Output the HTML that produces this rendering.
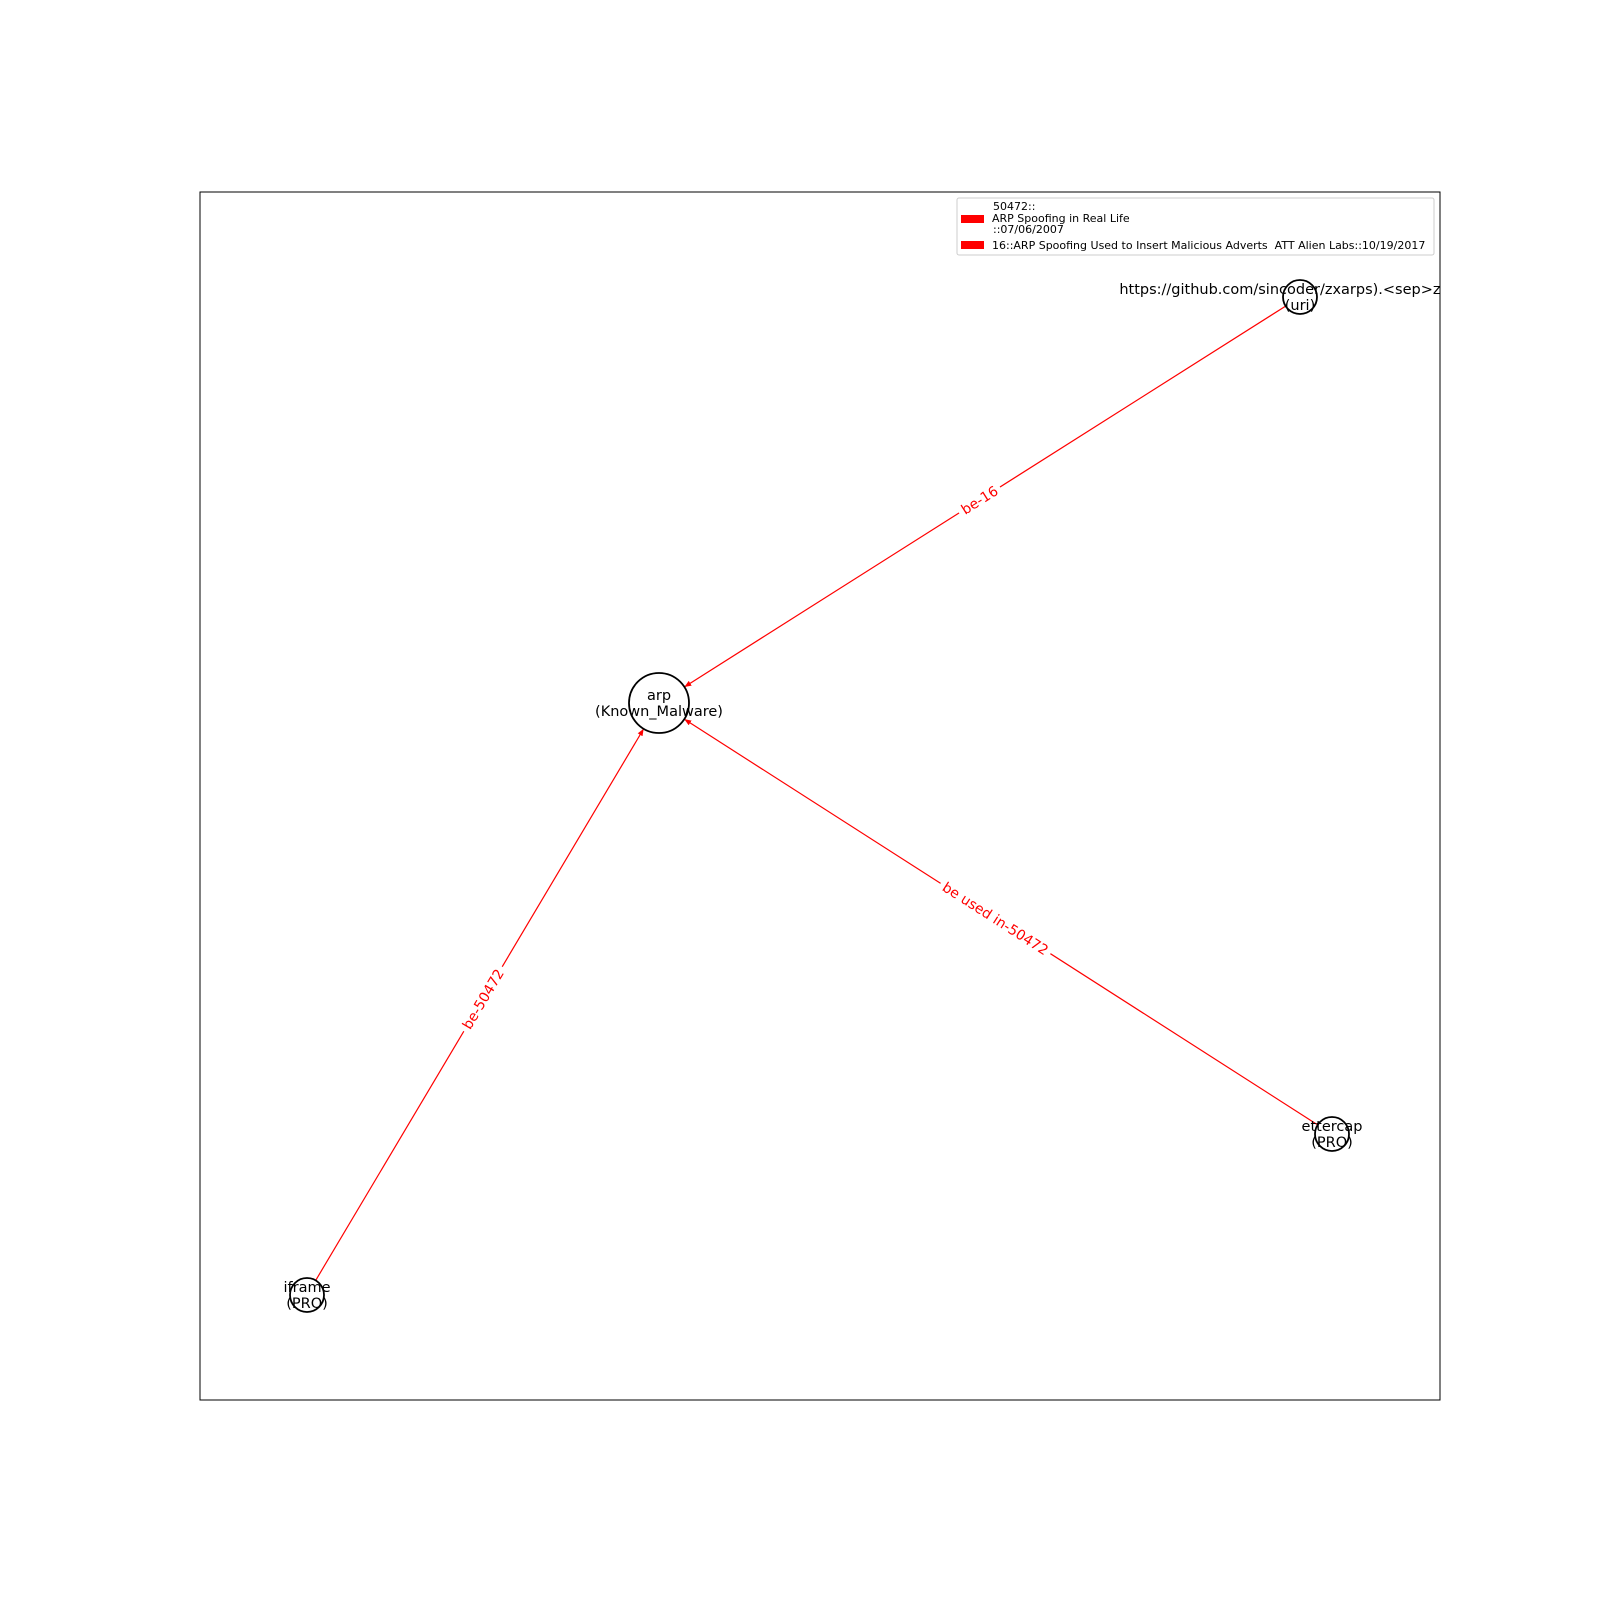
<!DOCTYPE html>
<html><head><meta charset="utf-8"><style>
html,body{margin:0;padding:0;background:#fff;}
svg{display:block;font-family:"DejaVu Sans","Liberation Sans",sans-serif;}
</style></head><body>
<svg id="chart" width="1600" height="1600" viewBox="0 0 1600 1600" xmlns="http://www.w3.org/2000/svg">
<defs>
<clipPath id="axclip"><rect x="200" y="192" width="1240" height="1208"/></clipPath>
<marker id="arrow" viewBox="0 0 10 10" refX="10" refY="5" markerWidth="7" markerHeight="7" orient="auto" markerUnits="userSpaceOnUse"><path d="M0,1 L10,5 L0,9 z" fill="red"/></marker>
</defs>
<rect x="0" y="0" width="1600" height="1600" fill="#fff"/>
<g id="edges"></g>
<g id="nodes" clip-path="url(#axclip)"></g>
<g id="elabels"></g>
<rect x="200" y="192" width="1240" height="1208" fill="none" stroke="#000" stroke-width="1"/>
<g>
<rect x="957" y="198" width="477" height="57" rx="2" fill="#fff" stroke="#ccc" stroke-width="1"/>
<rect x="961" y="215" width="23" height="8" fill="red"/>
<text x="992" y="210" font-size="11" fill="#000"><tspan x="993" y="210">50472::</tspan><tspan x="992" y="222">ARP Spoofing in Real Life</tspan><tspan x="993" y="233">::07/06/2007</tspan></text>
<rect x="961" y="241" width="23" height="8" fill="red"/>
<text x="992" y="249" font-size="11" fill="#000">16::ARP Spoofing Used to Insert Malicious Adverts&#160; ATT Alien Labs::10/19/2017</text>
</g>
</svg>
<script>
const nodeNames = ["arp", "https://github.com/sincoder/zxarps).<sep>zxarps", "ettercap", "iframe"];
const nodeTypes = ["Known_Malware", "uri", "PRO", "PRO"];
const nodeX = [659, 1300, 1332, 307];
const nodeY = [703, 297, 1134, 1295];
const nodeR = [30, 17, 17, 17];
const edgeSource = [1, 2, 3];
const edgeTarget = [0, 0, 0];
const edgeLabels = ["be-16", "be used in-50472", "be-50472"];
const NS = "http://www.w3.org/2000/svg";
const eg = document.getElementById("edges"), ng = document.getElementById("nodes"), lg = document.getElementById("elabels");
edgeSource.forEach((s, i) => {
  const t = edgeTarget[i];
  const dx = nodeX[t] - nodeX[s], dy = nodeY[t] - nodeY[s], L = Math.hypot(dx, dy);
  const ux = dx / L, uy = dy / L;
  const ln = document.createElementNS(NS, "line");
  ln.setAttribute("x1", nodeX[s] + ux * nodeR[s]);
  ln.setAttribute("y1", nodeY[s] + uy * nodeR[s]);
  ln.setAttribute("x2", nodeX[t] - ux * nodeR[t]);
  ln.setAttribute("y2", nodeY[t] - uy * nodeR[t]);
  ln.setAttribute("stroke", "red");
  ln.setAttribute("stroke-width", "1.2");
  ln.setAttribute("marker-end", "url(#arrow)");
  
  
  eg.appendChild(ln);
  const mx = (nodeX[s] + nodeX[t]) / 2, my = (nodeY[s] + nodeY[t]) / 2;
  let ang = Math.atan2(dy, dx) * 180 / Math.PI;
  if (ang > 90) ang -= 180; if (ang < -90) ang += 180;
  const g = document.createElementNS(NS, "g");
  g.setAttribute("transform", `translate(${mx},${my}) rotate(${ang})`);
  
  
  const tx = document.createElementNS(NS, "text");
  tx.setAttribute("x", 0); tx.setAttribute("y", 5);
  tx.setAttribute("text-anchor", "middle");
  tx.setAttribute("font-size", "14");
  tx.setAttribute("fill", "red");
  tx.textContent = edgeLabels[i];
  g.appendChild(tx);
  lg.appendChild(g);
  const bb = tx.getBBox();
  const bg = document.createElementNS(NS, "rect");
  bg.setAttribute("x", bb.x - 4); bg.setAttribute("y", bb.y - 1);
  bg.setAttribute("width", bb.width + 8); bg.setAttribute("height", bb.height + 2);
  bg.setAttribute("fill", "#fff");
  g.insertBefore(bg, tx);
});
nodeNames.forEach((n, i) => {
  const c = document.createElementNS(NS, "circle");
  c.setAttribute("cx", nodeX[i]); c.setAttribute("cy", nodeY[i]); c.setAttribute("r", nodeR[i]);
  c.setAttribute("fill", "#fff"); c.setAttribute("stroke", "#000"); c.setAttribute("stroke-width", "1.8");
  
  
  ng.appendChild(c);
});
nodeNames.forEach((n, i) => {
  const t = document.createElementNS(NS, "text");
  t.setAttribute("text-anchor", "middle");
  t.setAttribute("font-size", "14.5");
  t.setAttribute("fill", "#000");
  
  
  const a = document.createElementNS(NS, "tspan");
  a.setAttribute("x", nodeX[i]); a.setAttribute("y", nodeY[i] - 3); a.textContent = n;
  const b = document.createElementNS(NS, "tspan");
  b.setAttribute("x", nodeX[i]); b.setAttribute("y", nodeY[i] + 13); b.textContent = "(" + nodeTypes[i] + ")";
  t.appendChild(a); t.appendChild(b);
  ng.appendChild(t);
});
</script>
</body></html>
